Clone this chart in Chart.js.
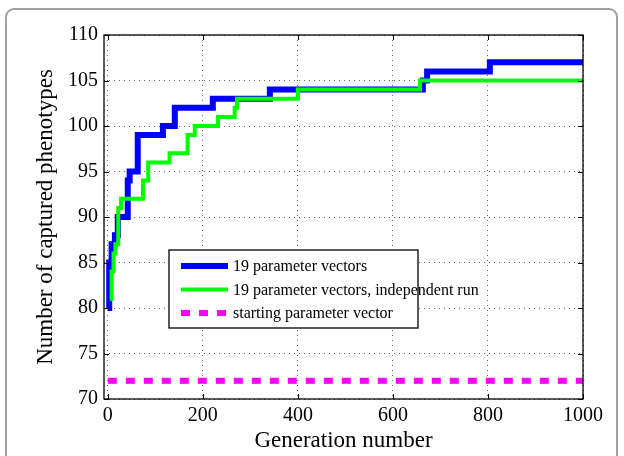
<!DOCTYPE html>
<html>
<head>
<meta charset="utf-8">
<script src="https://cdn.jsdelivr.net/npm/chart.js@4/dist/chart.umd.min.js"></script>
<style>
  body { margin: 0; background: #fff; }
  #wrap { position: relative; width: 624px; height: 456px; overflow: hidden; }
  #frame {
    position: absolute; left: 5px; top: 8px; width: 613px; height: 470px;
    border: 2px solid #a0a0a0; border-radius: 9px; box-sizing: border-box;
  }
  canvas { position: absolute; left: 0; top: 0; }
</style>
</head>
<body>
<div id="wrap">
  <div id="frame"></div>
  <canvas id="chart" width="624" height="456"></canvas>
</div>
<script>
// Values
const blueGen = [0, 3, 8, 15, 21, 42, 46, 63, 116, 141, 221, 341, 663, 672, 804, 1000];
const blueVal = [80, 85, 87, 88, 90, 94, 95, 99, 100, 102, 103, 104, 105, 106, 107, 107];

const greenGen = [4, 8, 12, 16, 22, 28, 74, 85, 130, 168, 183, 232, 267, 272, 400, 657, 1000];
const greenVal = [81, 84, 86, 87, 91, 92, 94, 96, 97, 99, 100, 101, 102, 103, 104, 105, 105];

const startGen = [0, 1000];
const startVal = [72, 72];

const seriesLabels = [
  '19 parameter vectors',
  '19 parameter vectors, independent run',
  'starting parameter vector'
];

const xTicks = [0, 200, 400, 600, 800, 1000];
const yTicks = [70, 75, 80, 85, 90, 95, 100, 105, 110];

const serif = "'Liberation Serif', 'DejaVu Serif', serif";

function toPoints(xs, ys) {
  return xs.map((x, i) => ({ x: x, y: ys[i] }));
}

// Box, inward ticks and the legend, drawn after the data
const matlabFrame = {
  id: 'matlab-frame',
  afterDraw(chart) {
    const { ctx, chartArea: a, scales } = chart;
    ctx.save();
    ctx.strokeStyle = '#000';
    ctx.lineWidth = 1.3;
    ctx.strokeRect(a.left, a.top, a.right - a.left, a.bottom - a.top);

    ctx.beginPath();
    xTicks.forEach(v => {
      const px = Math.round(scales.x.getPixelForValue(v)) + 0.5;
      ctx.moveTo(px, a.bottom); ctx.lineTo(px, a.bottom - 5);
      ctx.moveTo(px, a.top); ctx.lineTo(px, a.top + 5);
    });
    yTicks.forEach(v => {
      const py = Math.round(scales.y.getPixelForValue(v)) + 0.5;
      ctx.moveTo(a.left, py); ctx.lineTo(a.left + 5, py);
      ctx.moveTo(a.right, py); ctx.lineTo(a.right - 5, py);
    });
    ctx.lineWidth = 1;
    ctx.stroke();

    // legend
    const lx = a.left + 65, ly = a.top + 215, lw = 249, lh = 78;
    ctx.fillStyle = '#fff';
    ctx.fillRect(lx, ly, lw, lh);
    ctx.lineWidth = 1.3;
    ctx.strokeRect(lx, ly, lw, lh);
    ctx.font = '16px ' + serif;
    ctx.textBaseline = 'middle';
    ctx.textAlign = 'left';
    chart.data.datasets.forEach((ds, i) => {
      const y = ly + 16 + i * 23.5;
      ctx.beginPath();
      ctx.strokeStyle = ds.borderColor;
      ctx.lineWidth = ds.borderWidth;
      ctx.setLineDash(ds.borderDash || []);
      ctx.moveTo(lx + 12, y);
      ctx.lineTo(lx + 59, y);
      ctx.stroke();
      ctx.setLineDash([]);
      ctx.fillStyle = '#000';
      ctx.fillText(ds.label, lx + 64, y + 1);
    });
    ctx.restore();
  }
};

new Chart(document.getElementById('chart'), {
  type: 'line',
  data: {
    datasets: [
      {
        label: seriesLabels[0],
        data: toPoints(blueGen, blueVal),
        borderColor: '#0000ff',
        borderWidth: 6,
        stepped: true,
        pointRadius: 0,
        order: 1
      },
      {
        label: seriesLabels[1],
        data: toPoints(greenGen, greenVal),
        borderColor: '#00ff00',
        borderWidth: 4,
        stepped: true,
        pointRadius: 0,
        order: 0
      },
      {
        label: seriesLabels[2],
        data: toPoints(startGen, startVal),
        borderColor: '#ff00ff',
        borderWidth: 6,
        borderDash: [9, 9],
        pointRadius: 0,
        order: 2
      }
    ]
  },
  options: {
    responsive: false,
    animation: false,
    layout: { padding: { left: 0, top: 35, right: 41, bottom: 0 } },
    plugins: {
      legend: { display: false },
      tooltip: { enabled: false }
    },
    scales: {
      x: {
        type: 'linear',
        min: -8,
        max: 1000,
        afterBuildTicks: s => { s.ticks = xTicks.map(v => ({ value: v })); },
        afterFit: s => { s.height = 57; },
        grid: {
          color: '#666',
          lineWidth: 1,
          drawTicks: false
        },
        border: { display: false, dash: [1, 4] },
        ticks: {
          color: '#000',
          padding: 5,
          maxRotation: 0,
          callback: v => String(v),
          font: { family: serif, size: 20 }
        },
        title: {
          display: true,
          text: 'Generation number',
          color: '#000',
          padding: { top: 0, bottom: 1 },
          font: { family: serif, size: 23 }
        }
      },
      y: {
        type: 'linear',
        min: 70,
        max: 110,
        afterBuildTicks: s => { s.ticks = yTicks.map(v => ({ value: v })); },
        afterFit: s => { s.width = 104; },
        grid: {
          color: '#666',
          lineWidth: 1,
          drawTicks: false
        },
        border: { display: false, dash: [1, 4] },
        ticks: {
          color: '#000',
          padding: 6,
          callback: v => String(v),
          font: { family: serif, size: 20 }
        },
        title: {
          display: true,
          text: 'Number of captured phenotypes',
          color: '#000',
          padding: { top: 32, bottom: 0 },
          font: { family: serif, size: 23 }
        }
      }
    }
  },
  plugins: [matlabFrame]
});
</script>
</body>
</html>
